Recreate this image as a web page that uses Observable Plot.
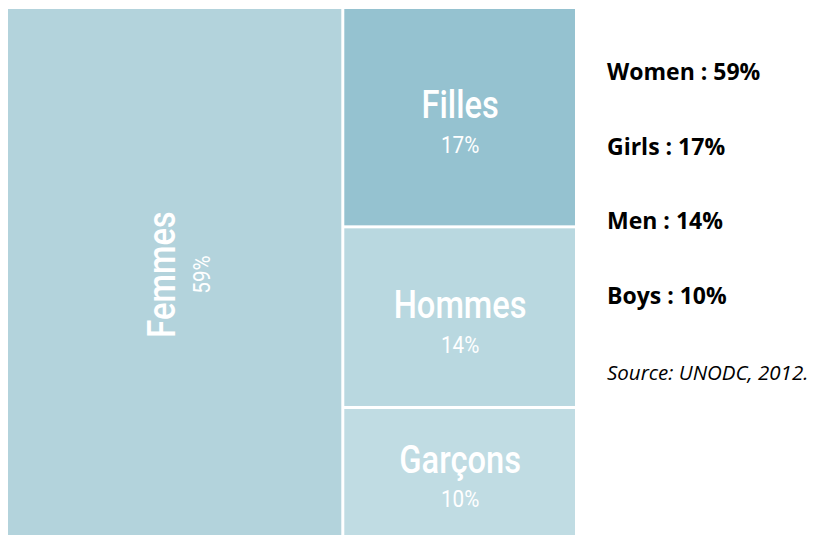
<!DOCTYPE html>
<html>
<head>
<meta charset="utf-8">
<script src="https://cdn.jsdelivr.net/npm/d3@7"></script>
<script src="https://cdn.jsdelivr.net/npm/@observablehq/plot@0.6"></script>
<style>
  body { margin: 0; background: #fff; }
  #wrap { position: relative; width: 840px; height: 535px; overflow: hidden; }
  #chart { position: absolute; left: 0; top: 0; }
  #legend { position: absolute; left: 607px; top: 0; font-family: "Open Sans", "DejaVu Sans", sans-serif; color: #000; }
  #legend div { position: absolute; left: 0; white-space: nowrap; font-size: 23px; font-weight: bold; line-height: normal; }
  #legend .src { font-weight: normal; font-style: italic; font-size: 20.5px; }
</style>
</head>
<body>
<div id="wrap">
  <div id="chart"></div>
  <div id="legend"></div>
</div>
<script>
const categories = ["Femmes", "Filles", "Hommes", "Garçons"];
const values = [59, 17, 14, 10];
const englishLabels = ["Women", "Girls", "Men", "Boys"];
const sourceNote = "Source: UNODC, 2012.";

const W = 567, H = 526;
const root = d3.hierarchy({children: categories.map((name, i) => ({name, value: values[i]}))})
  .sum(d => d.value || 0);
d3.treemap().tile(d3.treemapBinary).size([W, H]).round(false)(root);
const cells = root.leaves().map(l => ({
  name: l.data.name, value: l.data.value,
  x0: l.x0, x1: l.x1, y0: l.y0, y1: l.y1,
  cx: (l.x0 + l.x1) / 2, cy: (l.y0 + l.y1) / 2,
  rotated: (l.y1 - l.y0) > (l.x1 - l.x0) * 1.3
}));
const flat = cells.filter(d => !d.rotated);
const rot = cells.filter(d => d.rotated);
const nameFont = `Roboto, "Open Sans", sans-serif`;

const chart = Plot.plot({
  width: 840, height: 535,
  marginLeft: 0, marginRight: 0, marginTop: 0, marginBottom: 0,
  x: {domain: [0, W], range: [6.5, 576.5], axis: null},
  y: {domain: [0, H], range: [7.5, 536.5], axis: null},
  color: {domain: categories, range: ["#b3d3dc", "#95c2d0", "#b9d8e0", "#c0dce3"]},
  marks: [
    Plot.rect(cells, {x1: "x0", x2: "x1", y1: "y0", y2: "y1", fill: "name", inset: 1.5}),
    Plot.text(flat, {x: "cx", y: "cy", text: "name", fill: "white", fontSize: 38, fontWeight: 500, fontFamily: nameFont, lineAnchor: "bottom", dy: 0.5}),
    Plot.text(flat, {x: "cx", y: "cy", text: d => d.value + "%", fill: "white", fontSize: 24, fontFamily: nameFont, lineAnchor: "bottom", dy: 35}),
    Plot.text(rot, {x: "cx", y: "cy", text: "name", fill: "white", fontSize: 38, fontWeight: 500, fontFamily: nameFont, lineAnchor: "bottom", rotate: -90, dy: 2}),
    Plot.text(rot, {x: "cx", y: "cy", text: d => d.value + "%", fill: "white", fontSize: 24, fontFamily: nameFont, lineAnchor: "bottom", rotate: -90, dx: 35, dy: 2})
  ]
});
// condense the label glyphs horizontally (narrow display face in the original)
chart.querySelectorAll('g[aria-label="text"] text').forEach(t => {
  const tr = t.getAttribute("transform") || "";
  t.setAttribute("transform", tr + " scale(0.86,1)");
});
document.getElementById("chart").appendChild(chart);

const legend = document.getElementById("legend");
const baselines = [80, 154.5, 229, 303.5];
englishLabels.forEach((t, i) => {
  const d = document.createElement("div");
  d.textContent = `${t} : ${values[i]}%`;
  d.style.top = (baselines[i] - 1.069 * 23) + "px";
  legend.appendChild(d);
});
const s = document.createElement("div");
s.className = "src";
s.textContent = sourceNote;
s.style.top = (380 - 1.069 * 20.5) + "px";
legend.appendChild(s);
</script>
</body>
</html>
